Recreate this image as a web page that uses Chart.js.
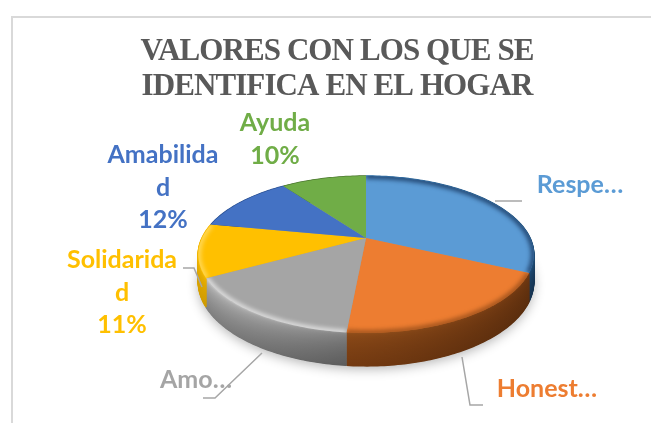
<!DOCTYPE html>
<html>
<head>
<meta charset="utf-8">
<script src="https://cdn.jsdelivr.net/npm/chart.js@4"></script>
<style>
  html, body { margin: 0; padding: 0; background: #fff; }
  #canvas-container { position: relative; width: 651px; height: 423px; overflow: hidden; }
  #frame { position: absolute; left: 11px; top: 16px; right: -5px; bottom: -5px; border: 2px solid #d9d9d9; }
  canvas { position: absolute; left: 0; top: 0; }
</style>
</head>
<body>
<div id="canvas-container">
  <div id="frame"></div>
  <canvas id="canvas" width="651" height="423"></canvas>
</div>
<script>
const titleLines = ["VALORES CON LOS QUE SE", "IDENTIFICA EN EL HOGAR"];
const categories = ["Respeto", "Honestidad", "Amor", "Solidaridad", "Amabilidad", "Ayuda"];
const values = [32, 19.5, 15.5, 11, 12, 10];
const colors = ["#5B9BD5", "#ED7D31", "#A5A5A5", "#FFC000", "#4472C4", "#70AD47"];
const labelLines = [["Respe…"], ["Honest…"], ["Amo…"], ["Solidarida", "d", "11%"], ["Amabilida", "d", "12%"], ["Ayuda", "10%"]];

// where the labels sit, center x and y of the first line
const labelPos = [[580, 185], [547, 389], [196, 380], [122, 260], [163, 155], [275, 123]];
const leaders = [
  [[495, 201], [522, 201]],
  [[462, 357], [470, 405], [483, 405]],
  [[262, 353], [215, 398], [203, 398]],
  [[183, 268], [194, 268], [202, 287]]
];

// wall shades: [top left, bottom left, top right, bottom right]
const wallShades = [
  ["#2f6ea5", "#1d4468", "#1f4e79", "#15324f"],
  ["#94501b", "#743a11", "#733a12", "#5a2d0d"],
  ["#c4c4c4", "#808080", "#8f8f8f", "#5c5c5c"],
  ["#f2b600", "#d49f00", "#f2b600", "#c99600"],
  ["#2f5597", "#203864", "#2f5597", "#203864"],
  ["#4e7a32", "#385723", "#4e7a32", "#385723"]
];
const rimColors = ["rgba(20,50,90,.75)", "rgba(110,55,15,.55)", "rgba(255,255,255,.6)", "rgba(255,225,120,.7)", "rgba(0,0,0,0)", "rgba(0,0,0,0)"];

const tilt = 75 / 164;
const persp = 0.21;
const depth = 26;

function project(arc, a, r, d) {
  const u = Math.cos(a) * r, v = Math.sin(a) * r;
  const w = 1 - persp * v;
  return [arc.x + arc.outerRadius * u / w, arc.y + (arc.outerRadius * tilt * v + d) / w];
}

function edgePoints(arc, d) {
  const pts = [];
  const n = Math.max(4, Math.ceil((arc.endAngle - arc.startAngle) * 60));
  for (let i = 0; i <= n; i++) {
    pts.push(project(arc, arc.startAngle + (arc.endAngle - arc.startAngle) * i / n, 1, d));
  }
  return pts;
}

function tracePoints(ctx, pts) {
  pts.forEach((p, i) => i ? ctx.lineTo(p[0], p[1]) : ctx.moveTo(p[0], p[1]));
}

function mix(c1, c2, t) {
  const a = parseInt(c1.slice(1), 16), b = parseInt(c2.slice(1), 16);
  const ch = s => Math.round(((a >> s) & 255) * (1 - t) + ((b >> s) & 255) * t);
  return "rgb(" + ch(16) + "," + ch(8) + "," + ch(0) + ")";
}

const tiltedPie = {
  id: "tiltedPie",
  afterLayout(chart) {
    chart.titleBlock.left = 137;
    chart.titleBlock.right = 537;
  },
  beforeDraw(chart) {
    chart.ctx.letterSpacing = "-0.9px";
  },
  beforeDatasetsDraw(chart) {
    const ctx = chart.ctx;
    const arcs = chart.getDatasetMeta(0).data;
    ctx.save();

    // soft shadow under the disc
    ctx.save();
    ctx.shadowColor = "rgba(0,0,0,.3)";
    ctx.shadowBlur = 12;
    ctx.shadowOffsetY = 3;
    ctx.fillStyle = "#999";
    ctx.beginPath();
    arcs.forEach(arc => edgePoints(arc, depth).forEach(p => ctx.lineTo(p[0], p[1])));
    ctx.closePath();
    ctx.fill();
    ctx.restore();

    // side wall, stacked thin strokes from bottom to top
    arcs.forEach((arc, i) => {
      const s = wallShades[i];
      const xs = edgePoints(arc, 0).map(p => p[0]);
      const a = Math.min(...xs), b = Math.max(...xs);
      for (let d = depth; d >= 0; d -= 0.5) {
        const t = Math.sqrt(d / depth);
        const g = ctx.createLinearGradient(a, 0, Math.max(b, a + 1), 0);
        g.addColorStop(0, mix(s[0], s[1], t));
        g.addColorStop(1, mix(s[2], s[3], t));
        ctx.strokeStyle = g;
        ctx.lineWidth = 1.5;
        ctx.beginPath();
        tracePoints(ctx, edgePoints(arc, d));
        ctx.stroke();
      }
    });

    // top faces
    arcs.forEach((arc, i) => {
      const pts = edgePoints(arc, 0);
      ctx.fillStyle = colors[i];
      ctx.beginPath();
      ctx.moveTo(arc.x, arc.y);
      pts.forEach(p => ctx.lineTo(p[0], p[1]));
      ctx.closePath();
      ctx.fill();

      // bevel along the rim
      ctx.save();
      ctx.clip();
      ctx.filter = "blur(2px)";
      ctx.strokeStyle = rimColors[i];
      ctx.lineWidth = 6;
      ctx.beginPath();
      tracePoints(ctx, pts);
      ctx.stroke();
      ctx.restore();
    });

    ctx.restore();
    return false;
  },
  afterDraw(chart) {
    const ctx = chart.ctx;
    ctx.letterSpacing = "0px";
    ctx.save();
    ctx.strokeStyle = "#a6a6a6";
    ctx.lineWidth = 1.5;
    leaders.forEach(line => {
      ctx.beginPath();
      tracePoints(ctx, line);
      ctx.stroke();
    });
    ctx.font = "bold 25px Lato";
    ctx.textAlign = "center";
    ctx.textBaseline = "middle";
    labelLines.forEach((lines, i) => {
      ctx.fillStyle = colors[i];
      lines.forEach((txt, k) => ctx.fillText(txt, labelPos[i][0], labelPos[i][1] + k * 32.5));
    });
    ctx.restore();
  }
};

new Chart(document.getElementById("canvas"), {
  type: "pie",
  data: {
    labels: categories,
    datasets: [{ data: values, backgroundColor: colors, borderWidth: 0, radius: 164 }]
  },
  options: {
    responsive: false,
    animation: false,
    layout: { padding: { left: 202, right: 121, top: 34, bottom: 51 } },
    plugins: {
      legend: { display: false },
      tooltip: { enabled: false },
      title: {
        display: true,
        text: titleLines,
        color: "#595959",
        font: { family: "Liberation Serif", size: 31, weight: "bold", lineHeight: 1.13 },
        padding: 0
      }
    }
  },
  plugins: [tiltedPie]
});
</script>
</body>
</html>
